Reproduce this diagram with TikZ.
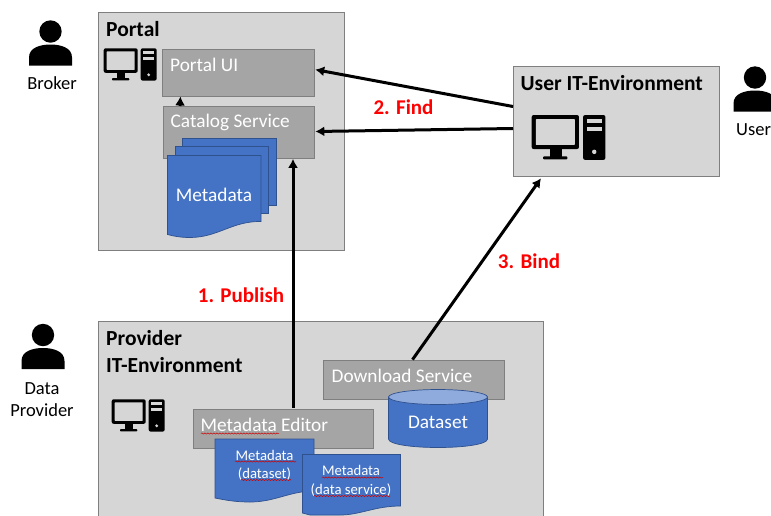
\documentclass[tikz,border=0pt]{standalone}
\usepackage{fontspec}
\setmainfont{Carlito}
\usetikzlibrary{decorations.pathmorphing,arrows.meta,calc}
\definecolor{panelgray}{HTML}{D6D6D6}
\definecolor{svcgray}{HTML}{A5A5A5}
\definecolor{edgegray}{HTML}{7F7F7F}
\definecolor{docblue}{HTML}{4472C4}
\definecolor{docedge}{HTML}{2F528F}
\definecolor{cyltop}{HTML}{8FAADC}
\tikzset{
  x=1pt,y=-1pt,
  panel/.style={draw=edgegray,line width=0.9pt,fill=panelgray,inner sep=0,anchor=north west},
  svc/.style={draw=edgegray,line width=0.9pt,fill=svcgray,inner sep=0,anchor=north west},
  head/.style={font=\bfseries\fontsize{21.5}{27}\selectfont,text=black,anchor=west,align=left,inner sep=0},
  svctext/.style={font=\fontsize{19.3}{21}\selectfont,text=white,anchor=west,inner sep=0},
  doctext/.style={font=\fontsize{19.3}{21}\selectfont,text=white,inner sep=0,align=center},
  smalldoc/.style={font=\fontsize{14.7}{18.2}\selectfont,text=white,inner sep=0,align=center},
  who/.style={font=\fontsize{18.5}{22}\selectfont,text=black,inner sep=0,align=center},
  redlabel/.style={font=\bfseries\fontsize{21}{24}\selectfont,text=red,inner sep=0},
  flow/.style={draw=black,line width=3pt,-{Latex[length=9pt,width=10pt]}},
  sheet/.style={draw=docedge,line width=0.7pt,fill=docblue},
  squiggle/.style={draw=red!80!black,line width=0.5pt,decorate,decoration={snake,amplitude=0.6pt,segment length=3pt}},
  pics/person/.style={code={
    \fill[black] (0,-13) circle[radius=11.2];
    \fill[black] (-21.5,21) -- (-21.5,13) .. controls (-21.5,3) and (-10,0) .. (0,0)
       .. controls (10,0) and (21.5,3) .. (21.5,13) -- (21.5,21) -- cycle;
  }},
  pics/computer/.style={code={
    \fill[black,rounded corners=2pt] (0,0) rectangle (34,24.5);
    \fill[panelgray,rounded corners=0.5pt] (3,3) rectangle (31,21.5);
    \fill[black] (13.5,24) rectangle (21.5,30.5);
    \fill[black,rounded corners=0.8pt] (8.3,29.8) rectangle (25.6,32);
    \fill[black,rounded corners=2pt] (37,0) rectangle (53,32.3);
    \fill[panelgray] (39.5,2.6) rectangle (50.5,6);
    \fill[panelgray] (39.5,8.4) rectangle (50.5,11.6);
    \fill[panelgray] (45,26.5) circle[radius=1.6];
  }}
}
\begin{document}
\begin{tikzpicture}
\useasboundingbox (0,0) rectangle (771,515);
% panels
\node[panel,minimum width=245.9pt,minimum height=238.5pt] (portal) at (97.9,11.9) {};
\node[panel,minimum width=205.9pt,minimum height=110.9pt] (userenv) at (513,65.5) {};
\begin{scope}
\clip (0,0) rectangle (771,515);
\node[panel,minimum width=445.4pt,minimum height=200pt] (provider) at (97.9,321) {};
\end{scope}
\node[head] (portaltitle) at (106,29) {Portal};
\node[head] (usertitle) at (520.5,83) {User IT-Environment};
\node[head] (providertitle) at (106,351.5) {Provider\\IT-Environment};
% services
\node[svc,minimum width=152.4pt,minimum height=46.9pt] (portalui) at (161.9,48.6) {};
\node[svc,minimum width=151.4pt,minimum height=51.9pt] (catalog) at (163,106) {};
\node[svc,minimum width=180.9pt,minimum height=38.9pt] (download) at (323,359.6) {};
\node[svc,minimum width=180.4pt,minimum height=38.9pt] (editor) at (192.5,408.6) {};
\node[svctext] (portaluitext) at (170,65) {Portal UI};
\node[svctext] (catalogtext) at (170.5,122) {Catalog Service};
\node[svctext] (downloadtext) at (331.5,376) {Download Service};
\node[svctext] (editortext) at (200.5,425) {Metadata Editor};
% metadata stack
\draw[sheet] (182.5,138.5) rectangle (276,205);
\draw[sheet] (175,146.5) rectangle (268,213);
\draw[sheet] (167.5,155.5) -- (261,155.5) -- (261,221.5)
  .. controls (232,221) and (218,237.5) .. (190,237.5)
  .. controls (180,237.5) and (173,236) .. (167.5,234.5) -- cycle;
\node[doctext] (metatext) at (214,195) {Metadata};
% dataset
\draw[sheet] (388.5,397) -- (388.5,439) .. controls (388.5,444) and (410,447.5) .. (438,447.5)
  .. controls (466,447.5) and (487.5,444) .. (487.5,439) -- (487.5,397) -- cycle;
\draw[sheet,fill=cyltop] (438,397) ellipse[x radius=49.5,y radius=7.5];
\node[doctext] (datasettext) at (438,422) {Dataset};
% small documents
\draw[sheet] (215,439) -- (314,439) -- (314,491)
  .. controls (290,491) and (275,502) .. (250,502)
  .. controls (235,502) and (225,500) .. (215,498) -- cycle;
\node[smalldoc] (docatext) at (264.5,465.5) {Metadata\\(dataset)};
\draw[sheet] (302.5,454.5) -- (400.5,454.5) -- (400.5,506)
  .. controls (375,506) and (360,515) .. (340,515) -- (310,515) -- (302.5,513) -- cycle;
\node[smalldoc] (docbtext) at (351,481) {Metadata\\(data service)};
% spell-check underlines
\draw[squiggle] (201,433.5) -- (279,433.5);
\draw[squiggle] (235,461.5) -- (296,461.5);
\draw[squiggle] (241,480) -- (291,480);
\draw[squiggle] (322,477.5) -- (383,477.5);
\draw[squiggle] (314,496) -- (390,496);
% icons
\pic (pcportal) at (103.7,48.3) {computer};
\pic[scale=1.39] (pcuser) at (531.7,115) {computer};
\pic (pcprov) at (111.7,399.3) {computer};
\pic (broker) at (50.5,44.5) {person};
\pic (dprov) at (43,348) {person};
\pic (usr) at (755,90.5) {person};
\node[who] (brokertext) at (52,83) {Broker};
\node[who] (dprovtext) at (42,400) {Data\\Provider};
\node[who,anchor=west] (usertext) at (736,130) {User};
% connectors
\draw[flow] ($(editor.north west)+(100.5,-1)$) -- ($(catalog.south west)+(130,0)$);
\draw[flow] ($(catalog.north west)+(17,0)$) -- ($(portalui.south west)+(18.5,0)$);
\draw[flow] ($(userenv.north west)+(0,41)$) -- ($(portalui.north east)+(0,21)$);
\draw[flow] ($(userenv.north west)+(0,63)$) -- ($(catalog.north east)+(0,25.5)$);
\draw[flow] ($(download.north west)+(89.5,0)$) -- ($(userenv.south west)+(28,1)$);
% labels
\node[redlabel] (publish) at (241,295.5) {1. Publish};
\node[redlabel] (find) at (403.5,107) {2. Find};
\node[redlabel] (bind) at (529,261) {3. Bind};
\end{tikzpicture}
\end{document}
